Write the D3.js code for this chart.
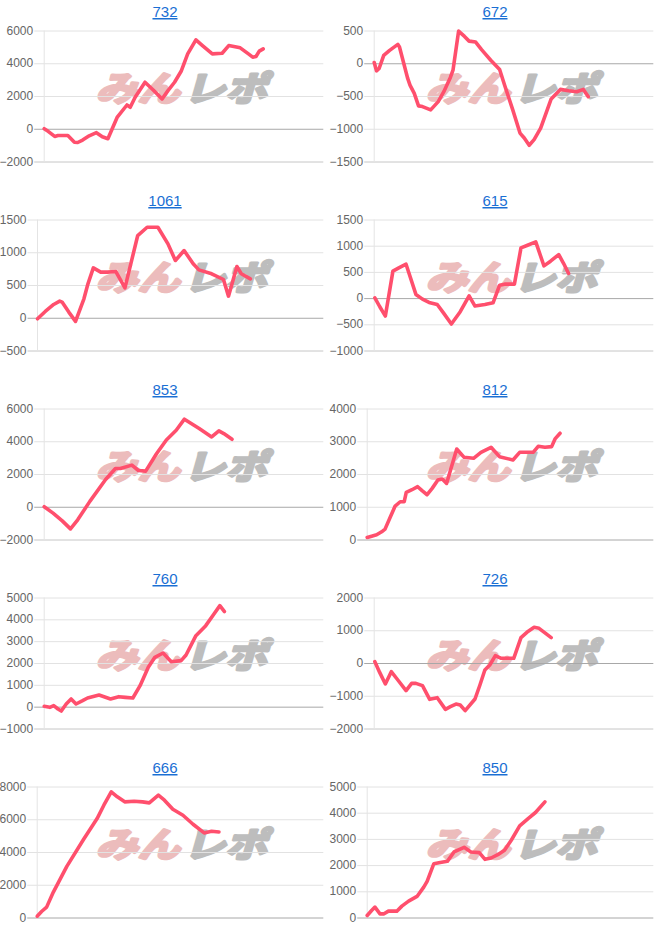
<!DOCTYPE html>
<html><head><meta charset="utf-8">
<script src="https://cdn.jsdelivr.net/npm/d3@7"></script>
<style>body{margin:0;background:#fff}svg{display:block}</style>
</head><body>
<svg id="c" width="660" height="945"></svg>
<script>
// machine numbers (titles)
const titles = ["732","672","1061","615","853","812","760","726","666","850"];
// y tick labels per chart
const ticks732 = [-2000,0,2000,4000,6000];
const ticks672 = [-1500,-1000,-500,0,500];
const ticks1061 = [-500,0,500,1000,1500];
const ticks615 = [-1000,-500,0,500,1000,1500];
const ticks853 = [-2000,0,2000,4000,6000];
const ticks812 = [0,1000,2000,3000,4000];
const ticks760 = [-1000,0,1000,2000,3000,4000,5000];
const ticks726 = [-2000,-1000,0,1000,2000];
const ticks666 = [0,2000,4000,6000,8000];
const ticks850 = [0,1000,2000,3000,4000,5000];
// series: [games, coin difference]
const s732 = [[0,0],[120,-160],[320,-470],[420,-410],[720,-410],[920,-820],[1020,-840],[1170,-690],[1370,-430],[1590,-240],[1770,-490],[1940,-610],[2220,690],[2520,1450],[2620,1310],[2770,1920],[3070,2840],[3320,2370],[3590,1820],[3770,2330],[3970,2840],[4170,3510],[4370,4570],[4620,5430],[4820,5080],[5120,4570],[5420,4610],[5620,5080],[5970,4940],[6220,4570],[6350,4370],[6450,4410],[6550,4740],[6670,4880]];
const s672 = [[0,10],[70,-116],[150,-80],[290,121],[470,197],[720,288],[770,248],[1020,-232],[1090,-333],[1220,-460],[1350,-651],[1470,-661],[1720,-712],[1950,-586],[2120,-434],[2320,-217],[2400,-106],[2570,490],[2750,409],[2890,338],[3090,323],[3270,207],[3550,45],[3820,-96],[3970,-333],[4220,-712],[4440,-1066],[4570,-1141],[4720,-1252],[4870,-1166],[5070,-990],[5390,-545],[5670,-399],[5920,-419],[6170,-434],[6370,-399],[6520,-510]];
const s1061 = [[0,-15],[230,96],[480,203],[660,254],[730,239],[930,86],[1130,-56],[1380,290],[1500,518],[1660,762],[1880,696],[2080,696],[2330,706],[2600,457],[2980,1255],[3260,1382],[3580,1382],[3880,1128],[4100,874],[4360,1026],[4630,823],[4800,731],[5180,671],[5530,584],[5680,330],[5930,782],[6060,671],[6330,594]];
const s615 = [[20,6],[170,-165],[340,-343],[570,514],[750,577],[970,647],[1270,70],[1470,-19],[1670,-82],[1920,-121],[2120,-292],[2350,-495],[2620,-260],[2890,44],[3070,-152],[3370,-121],[3620,-89],[3820,247],[3970,266],[4270,266],[4470,958],[4670,1008],[4920,1072],[5170,615],[5370,704],[5620,831],[5770,660],[5920,470]];
const s853 = [[0,0],[270,-390],[550,-861],[800,-1353],[1020,-800],[1390,328],[1870,1660],[2170,2337],[2320,2337],[2670,2542],[2870,2214],[3090,2173],[3420,3239],[3720,4080],[4020,4674],[4270,5350],[4720,4776],[5100,4264],[5320,4633],[5470,4469],[5720,4120]];
const s812 = [[0,61],[130,102],[280,143],[430,235],[530,316],[680,673],[830,1020],[980,1153],[1100,1153],[1160,1438],[1330,1520],[1500,1612],[1630,1490],[1780,1367],[1930,1561],[2100,1816],[2230,1846],[2360,1714],[2660,2764],[2880,2509],[3160,2479],[3380,2662],[3680,2815],[3930,2530],[4330,2428],[4530,2662],[4730,2662],[4930,2662],[5080,2846],[5280,2815],[5480,2836],[5580,3071],[5730,3244]];
const s760 = [[0,15],[170,-31],[290,46],[420,-107],[520,-199],[670,122],[820,351],[970,122],[1170,275],[1320,397],[1670,534],[2020,351],[2270,458],[2470,427],[2700,397],[2920,962],[3170,1802],[3370,2260],[3620,2458],[3870,2061],[4170,2107],[4320,2366],[4620,3252],[4920,3711],[5170,4245],[5350,4627],[5490,4352]];
const s726 = [[20,41],[170,-295],[340,-641],[520,-265],[720,-519],[970,-845],[1140,-621],[1270,-621],[1470,-692],[1690,-1110],[1920,-1059],[2170,-1415],[2320,-1334],[2490,-1252],[2620,-1283],[2770,-1456],[3070,-1100],[3220,-672],[3370,-214],[3520,-61],[3690,224],[3870,143],[4250,143],[4470,774],[4650,937],[4870,1089],[5020,1059],[5390,774]];
const s666 = [[0,82],[130,367],[280,633],[480,1551],[880,3123],[1380,4776],[1780,6041],[1980,6858],[2200,7674],[2380,7368],[2600,7062],[2880,7103],[3130,7062],[3330,7000],[3600,7470],[3780,7164],[4030,6613],[4330,6245],[4630,5694],[4960,5164],[5180,5266],[5400,5225]];
const s850 = [[0,77],[130,268],[230,396],[380,140],[500,140],[630,242],[880,242],[1030,434],[1230,625],[1480,804],[1680,1161],[1780,1378],[1980,2054],[2130,2093],[2380,2144],[2580,2501],[2880,2680],[3080,2501],[3330,2475],[3500,2220],[3680,2271],[3880,2399],[4080,2565],[4280,2948],[4530,3496],[4780,3777],[5000,4007],[5280,4415]];

const panels = [
  {title:titles[0], ticks:ticks732, data:s732},
  {title:titles[1], ticks:ticks672, data:s672},
  {title:titles[2], ticks:ticks1061, data:s1061},
  {title:titles[3], ticks:ticks615, data:s615},
  {title:titles[4], ticks:ticks853, data:s853},
  {title:titles[5], ticks:ticks812, data:s812},
  {title:titles[6], ticks:ticks760, data:s760},
  {title:titles[7], ticks:ticks726, data:s726},
  {title:titles[8], ticks:ticks666, data:s666},
  {title:titles[9], ticks:ticks850, data:s850}
];

const FONT = "Arial, 'Liberation Sans', sans-serif";
const svg = d3.select("#c");
const PW = 330, PH = 189, TOP = 30.5, BOT = 161.5, RIGHT = 323.3;
const lineColor = "#ff4f6d";

panels.forEach((p, i) => {
  const gx = (i % 2) * PW, gy = Math.floor(i / 2) * PH;
  const g = svg.append("g").attr("transform", `translate(${gx},${gy})`);

  // measure label widths
  const tmp = g.append("g").attr("font-family", FONT).attr("font-size", 12);
  const maxW = d3.max(p.ticks, t => tmp.append("text").text(d3.format("")(t)).node().getComputedTextLength());
  tmp.remove();
  const L = maxW + 0.5, x0 = L + 10;

  const y = d3.scaleLinear().domain(d3.extent(p.ticks)).range([BOT, TOP]);
  const x = d3.scaleLinear().domain([0, 8500]).range([x0, RIGHT]);
  const yMin = d3.min(p.ticks);

  // watermark (behind everything)
  const wm = g.append("g").attr("transform", "translate(181,101) skewX(-16) scale(1.2,0.98)")
    .attr("font-family", "'Noto Sans CJK JP', sans-serif").attr("font-weight", 700).attr("font-size", 35)
    .attr("stroke-width", 3).attr("stroke-linejoin", "round");
  wm.append("text").attr("x", -1).attr("text-anchor", "end").attr("fill", "#ecbcbc").attr("stroke", "#ecbcbc").text("みん");
  wm.append("text").attr("x", 2).attr("text-anchor", "start").attr("fill", "#bdbdbd").attr("stroke", "#bdbdbd").text("レポ");

  const ax = g.append("g").attr("transform", `translate(${L},0)`)
    .call(d3.axisLeft(y).tickValues(p.ticks).tickFormat(d3.format("")).tickSize(-(RIGHT - L)).tickPadding(1));
  ax.select(".domain").remove();
  ax.selectAll(".tick line")
    .attr("stroke", d => d === 0 ? "#a8a8a8" : (d === yMin ? "#c6c6c6" : "#e2e2e2"))
    .attr("stroke-width", 1);
  ax.selectAll(".tick text")
    .attr("font-family", FONT).attr("font-size", 12).attr("fill", "#666")
    .attr("dy", "0.3em");

  // vertical baseline
  g.append("line").attr("x1", x(0)).attr("x2", x(0)).attr("y1", y.range()[1]).attr("y2", y.range()[0])
    .attr("stroke", "#e4e4e4").attr("stroke-width", 1);

  // line
  g.append("path").datum(p.data)
    .attr("d", d3.line().x(d => x(d[0])).y(d => y(d[1])))
    .attr("fill", "none").attr("stroke", lineColor).attr("stroke-width", 3.6)
    .attr("stroke-linejoin", "round").attr("stroke-linecap", "round");

  // title
  g.append("text").attr("x", 165).attr("y", 17).attr("text-anchor", "middle")
    .attr("font-family", FONT).attr("font-size", 15).attr("fill", "#1a6fd4")
    .attr("text-decoration", "underline").text(p.title);
});
</script>
</body></html>
